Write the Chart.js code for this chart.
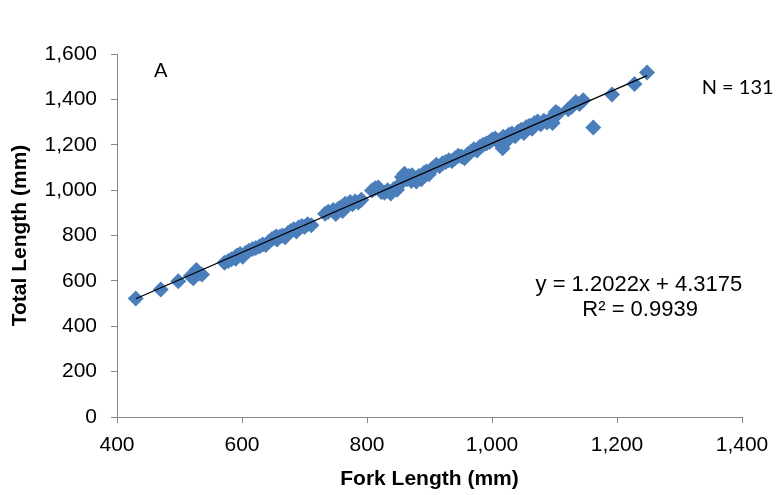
<!DOCTYPE html>
<html>
    <head>
        <meta charset="utf-8">
        <script src="https://cdn.jsdelivr.net/npm/chart.js@4.4.0/dist/chart.umd.min.js"></script>
        <title>Fork vs Total Length</title>
        <style>
            body { margin:0; background:#fff; }
            #wrap { width:780px; height:495px; position:relative; }
        </style>
    </head>
    <body>
        <div id="wrap"><canvas id="fl_chart"></canvas></div>

        <script type="text/javascript">
            // fork length (mm) vs total length (mm)
            var forkLength = [430, 470, 498, 518, 522, 527, 531, 536, 572, 578, 583, 588, 590, 592, 597, 601, 606, 611,
                617, 622, 628, 633, 638, 643, 648, 652, 655, 656, 661, 665, 669, 674, 678, 683, 687, 691, 696, 700,
                705, 711, 733, 738, 746, 750, 754, 758, 761, 765, 766, 769, 773, 777, 781, 786, 791, 808, 813, 818,
                823, 828, 833, 838, 843, 848, 852, 856, 860, 864, 867, 871, 872, 875, 879, 883, 887, 891, 895, 899,
                903, 907, 911, 916, 921, 926, 931, 936, 941, 946, 951, 956, 961, 966, 971, 976, 981, 986, 991, 996,
                1000, 1005, 1010, 1014, 1017, 1018, 1022, 1027, 1032, 1037, 1042, 1047, 1051, 1055, 1060, 1064, 1068,
                1073, 1078, 1083, 1088, 1093, 1097, 1102, 1106, 1122, 1127, 1134, 1140, 1146, 1162, 1192, 1228, 1248];
            var totalLength = [522, 562, 598, 622, 612, 648, 632, 628, 680, 688, 695, 702, 698, 712, 718, 706, 724, 733,
                740, 745, 752, 760, 758, 772, 785, 790, 796, 782, 796, 800, 792, 812, 820, 828, 818, 836, 842, 838,
                850, 845, 896, 905, 912, 895, 918, 925, 908, 940, 925, 932, 948, 938, 950, 946, 958, 998, 1008, 1012,
                992, 988, 1000, 985, 1005, 1002, 1025, 1058, 1072, 1048, 1062, 1040, 1066, 1056, 1038, 1062, 1048, 1075, 1082, 1070,
                1092, 1100, 1112, 1105, 1118, 1124, 1132, 1128, 1140, 1152, 1148, 1140, 1158, 1168, 1180, 1175, 1192, 1200, 1206, 1212,
                1222, 1228, 1218, 1200, 1185, 1235, 1212, 1244, 1250, 1238, 1258, 1266, 1252, 1278, 1284, 1270, 1296,
                1302, 1290, 1306, 1298, 1312, 1296, 1344, 1338, 1356, 1366, 1388, 1380, 1396, 1276, 1422, 1468, 1518];
            // linear trendline ends, y = 1.2022x + 4.3175
            var trendX = [430, 1248];
            var trendY = [521.3, 1504.7];
            var xTicks = [400, 600, 800, 1000, 1200, 1400];
            var yTicks = [0, 200, 400, 600, 800, 1000, 1200, 1400, 1600];

            var points = forkLength.map(function(v, i){ return {x: v, y: totalLength[i]}; });
            var trend = trendX.map(function(v, i){ return {x: v, y: trendY[i]}; });

            var FONT = "'Liberation Sans', Arial, sans-serif";

            var notes = {
                id: "notes",
                afterDatasetsDraw: function(chart){
                    var c = chart.ctx, xs = chart.scales.x, ys = chart.scales.y;
                    c.save();
                    c.fillStyle = "#000";
                    c.textAlign = "center";
                    c.textBaseline = "middle";
                    c.font = "20px Lato, 'Open Sans', sans-serif";
                    c.fillText("A", xs.getPixelForValue(470), ys.getPixelForValue(1525));
                    c.fillText("N = 131", xs.getPixelForValue(1393), ys.getPixelForValue(1450));
                    c.font = "22px " + FONT;
                    c.fillText("y = 1.2022x + 4.3175", xs.getPixelForValue(1235), ys.getPixelForValue(582));
                    c.fillText("R\u00b2 = 0.9939", xs.getPixelForValue(1237), ys.getPixelForValue(472));
                    c.restore();
                }
            };

            var axisGrid = {display: true, drawOnChartArea: false, drawTicks: true, tickLength: 6, color: "#868686"};

            var ctx = document.getElementById("fl_chart");
            var fl_chart = new Chart(ctx, {
                type: "scatter",
                data: {
                    datasets: [
                        {
                            type: "line",
                            data: trend,
                            borderColor: "#000",
                            borderWidth: 1.3,
                            pointRadius: 0,
                            fill: false
                        },
                        {
                            data: points,
                            pointStyle: "rectRot",
                            pointRadius: 8,
                            backgroundColor: "#4A7EBB",
                            borderColor: "#4A7EBB",
                            borderWidth: 0
                        }
                    ]
                },
                options: {
                    responsive: true,
                    maintainAspectRatio: false,
                    animation: false,
                    layout: {padding: {top: 54, right: 38, left: 0, bottom: 0}},
                    plugins: {legend: {display: false}, tooltip: {enabled: false}},
                    scales: {
                        x: {
                            type: "linear",
                            min: 400, max: 1400,
                            afterBuildTicks: function(s){ s.ticks = xTicks.map(function(v){ return {value: v}; }); },
                            afterFit: function(s){ s.height = 78; },
                            grid: axisGrid,
                            border: {display: true, color: "#868686", width: 1},
                            ticks: {
                                color: "#000", padding: 10,
                                font: {family: FONT, size: 21},
                                callback: function(v){ return v.toLocaleString("en-US"); }
                            },
                            title: {
                                display: true, text: "Fork Length (mm)", color: "#000",
                                font: {family: FONT, size: 21, weight: "bold"},
                                padding: {top: 0, bottom: 3}
                            }
                        },
                        y: {
                            type: "linear",
                            min: 0, max: 1600,
                            afterBuildTicks: function(s){ s.ticks = yTicks.map(function(v){ return {value: v}; }); },
                            afterFit: function(s){ s.width = 117; },
                            grid: axisGrid,
                            border: {display: true, color: "#868686", width: 1},
                            ticks: {
                                color: "#000", padding: 14,
                                font: {family: FONT, size: 21},
                                callback: function(v){ return v.toLocaleString("en-US"); }
                            },
                            title: {
                                display: true, text: "Total Length (mm)", color: "#000",
                                font: {family: FONT, size: 21, weight: "bold"},
                                padding: {top: 8, bottom: 0}
                            }
                        }
                    }
                },
                plugins: [notes]
            });
        </script>
    </body>
</html>
